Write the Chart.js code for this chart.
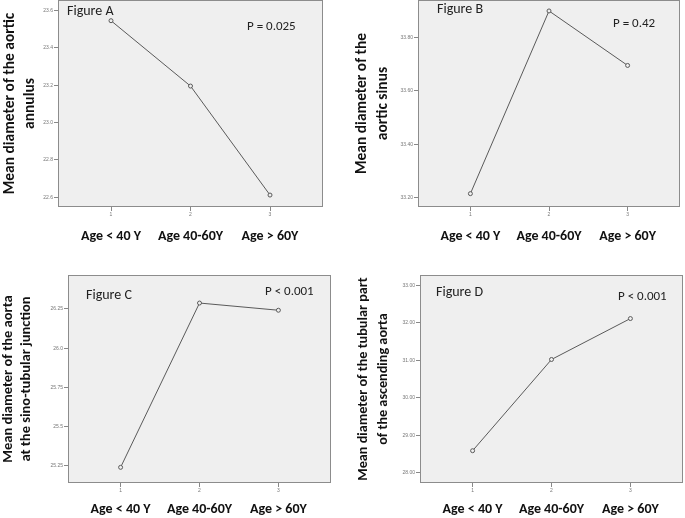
<!DOCTYPE html>
<html>
<head>
<meta charset="utf-8">
<script src="https://cdn.jsdelivr.net/npm/chart.js@4/dist/chart.umd.min.js"></script>
<style>
  body { margin: 0; background: #fff; }
  .panel { position: absolute; }
</style>
</head>
<body>
<div class="panel" style="left:0;top:0;width:340px;height:260px"><canvas id="chartA"></canvas></div>
<div class="panel" style="left:340px;top:0;width:345px;height:260px"><canvas id="chartB"></canvas></div>
<div class="panel" style="left:0;top:260px;width:340px;height:258px"><canvas id="chartC"></canvas></div>
<div class="panel" style="left:340px;top:260px;width:345px;height:258px"><canvas id="chartD"></canvas></div>
<script>
// age groups, plotted at 1, 2, 3 on the x axis
const groupPositions = [1, 2, 3];
const groupLabels = ['Age < 40 Y', 'Age 40-60Y', 'Age > 60Y'];

// mean diameters
const annulusValues = [23.546, 23.196, 22.612];
const sinusValues = [33.215, 33.899, 33.695];
const junctionValues = [25.239, 26.288, 26.242];
const tubularValues = [28.59, 31.02, 32.11];

// y tick values and their labels (as printed by SPSS)
const annulusTicks = [22.6, 22.8, 23.0, 23.2, 23.4, 23.6];
const annulusTickLabels = ['22.6', '22.8', '23.0', '23.2', '23.4', '23.6'];
const sinusTicks = [33.2, 33.4, 33.6, 33.8];
const sinusTickLabels = ['33.20', '33.40', '33.60', '33.80'];
const junctionTicks = [25.25, 25.5, 25.75, 26.0, 26.25];
const junctionTickLabels = ['25.25', '25.5', '25.75', '26.0', '26.25'];
const tubularTicks = [28, 29, 30, 31, 32, 33];
const tubularTickLabels = ['28.00', '29.00', '30.00', '31.00', '32.00', '33.00'];

const FONT = 'Carlito, "Roboto Condensed", Lato, sans-serif';
const TICK_FONT = '"Liberation Sans", sans-serif';

// gray plot box and the two text notes inside it
const boxPlugin = {
    id: 'box',
    beforeDatasetsDraw(chart) {
        const { ctx, chartArea: a } = chart;
        ctx.save();
        ctx.fillStyle = '#efefef';
        ctx.fillRect(a.left, a.top, a.right - a.left, a.bottom - a.top);
        ctx.restore();
    },
    afterDatasetsDraw(chart, args, opts) {
        const { ctx, chartArea: a } = chart;
        ctx.save();
        ctx.strokeStyle = '#8c8c8c';
        ctx.lineWidth = 1;
        ctx.strokeRect(a.left + 0.5, a.top + 0.5, a.right - a.left - 1, a.bottom - a.top - 1);
        ctx.fillStyle = '#222';
        ctx.textBaseline = 'middle';
        (opts.notes || []).forEach(n => {
            ctx.font = n.size + 'px ' + FONT;
            ctx.fillText(n.text, a.left + n.dx, a.top + n.dy);
        });
        ctx.restore();
    }
};

function makeChart( id, setup ) {
    const points = groupPositions.map((x, i) => ({ x: x, y: setup.values[i] }));
    const tickFont = { family: TICK_FONT, size: 5 };

    return new Chart(document.getElementById(id), {
        type: 'line',
        data: {
            datasets: [{
                data: points,
                borderColor: '#5a5a5a',
                borderWidth: 1,
                tension: 0,
                pointRadius: 2,
                pointBorderWidth: 1,
                pointBorderColor: '#5a5a5a',
                pointBackgroundColor: '#efefef'
            }]
        },
        plugins: [boxPlugin],
        options: {
            responsive: true,
            maintainAspectRatio: false,
            animation: false,
            layout: { padding: setup.padding, autoPadding: false },
            plugins: {
                legend: { display: false },
                tooltip: { enabled: false },
                box: { notes: setup.notes }
            },
            scales: {
                x: {
                    type: 'linear',
                    position: 'bottom',
                    min: 1 / 3,
                    max: 11 / 3,
                    afterBuildTicks: s => { s.ticks = groupPositions.map(v => ({ value: v })); },
                    afterFit: s => { s.height = 16; s.paddingLeft = 0; s.paddingRight = 0; },
                    ticks: { font: tickFont, color: '#777', padding: 1, maxRotation: 0, autoSkip: false },
                    grid: { drawOnChartArea: false, tickLength: 4, color: '#888' },
                    border: { display: false }
                },
                x2: {
                    type: 'linear',
                    position: 'bottom',
                    min: 1 / 3,
                    max: 11 / 3,
                    afterBuildTicks: s => { s.ticks = groupPositions.map(v => ({ value: v })); },
                    afterFit: s => { s.height = setup.groupHeight; s.paddingLeft = 0; s.paddingRight = 0; },
                    ticks: {
                        callback: v => groupLabels[groupPositions.indexOf(v)],
                        font: { family: FONT, size: 14, weight: 'bold' },
                        color: '#111',
                        padding: setup.groupPad,
                        maxRotation: 0,
                        autoSkip: false
                    },
                    grid: { display: false, drawTicks: false },
                    border: { display: false }
                },
                y: {
                    min: setup.yMin,
                    max: setup.yMax,
                    afterBuildTicks: s => { s.ticks = setup.ticks.map(v => ({ value: v })); },
                    afterFit: s => { s.width = setup.yWidth; s.paddingTop = 0; s.paddingBottom = 0; },
                    ticks: {
                        callback: v => setup.tickLabels[setup.ticks.indexOf(v)],
                        font: tickFont,
                        color: '#777',
                        padding: 1
                    },
                    grid: { drawOnChartArea: false, tickLength: 4, color: '#888' },
                    border: { display: false },
                    title: {
                        display: true,
                        text: setup.title,
                        color: '#111',
                        font: { family: FONT, size: setup.titleSize, weight: 'bold', lineHeight: setup.titleLine },
                        padding: { top: setup.titlePad, bottom: 0 }
                    }
                }
            }
        }
    });
}

makeChart('chartA', {
    values: annulusValues, ticks: annulusTicks, tickLabels: annulusTickLabels,
    yMin: 22.548, yMax: 23.657,
    title: ['Mean diameter of the aortic', 'annulus'],
    titleSize: 15.5, titleLine: 1.29, titlePad: 0,
    yWidth: 58, groupHeight: 37, groupPad: 5,
    padding: { top: 0, right: 17, bottom: 0, left: 0 },
    notes: [{ text: 'Figure A', dx: 9, dy: 11, size: 14 }, { text: 'P = 0.025', dx: 189, dy: 27, size: 13 }]
});

makeChart('chartB', {
    values: sinusValues, ticks: sinusTicks, tickLabels: sinusTickLabels,
    yMin: 33.165, yMax: 33.94,
    title: ['Mean diameter of the', 'aortic sinus'],
    titleSize: 15.5, titleLine: 1.4, titlePad: 11,
    yWidth: 78, groupHeight: 37, groupPad: 5,
    padding: { top: 0, right: 5, bottom: 0, left: 0 },
    notes: [{ text: 'Figure B', dx: 19, dy: 9.5, size: 14 }, { text: 'P = 0.42', dx: 195, dy: 24, size: 13 }]
});

makeChart('chartC', {
    values: junctionValues, ticks: junctionTicks, tickLabels: junctionTickLabels,
    yMin: 25.139, yMax: 26.467,
    title: ['Mean diameter of the aorta', 'at the sino-tubular junction'],
    titleSize: 14.5, titleLine: 1.2, titlePad: 0,
    yWidth: 68, groupHeight: 19, groupPad: 2,
    padding: { top: 15, right: 9, bottom: 0, left: 0 },
    notes: [{ text: 'Figure C', dx: 18, dy: 20, size: 14 }, { text: 'P < 0.001', dx: 197, dy: 17, size: 13 }]
});

makeChart('chartD', {
    values: tubularValues, ticks: tubularTicks, tickLabels: tubularTickLabels,
    yMin: 27.73, yMax: 33.27,
    title: ['Mean diameter of the tubular part', 'of the ascending aorta'],
    titleSize: 14.2, titleLine: 1.41, titlePad: 13,
    yWidth: 80, groupHeight: 19, groupPad: 2,
    padding: { top: 15, right: 2, bottom: 0, left: 0 },
    notes: [{ text: 'Figure D', dx: 16, dy: 17, size: 14 }, { text: 'P < 0.001', dx: 198, dy: 22, size: 13 }]
});
</script>
</body>
</html>
